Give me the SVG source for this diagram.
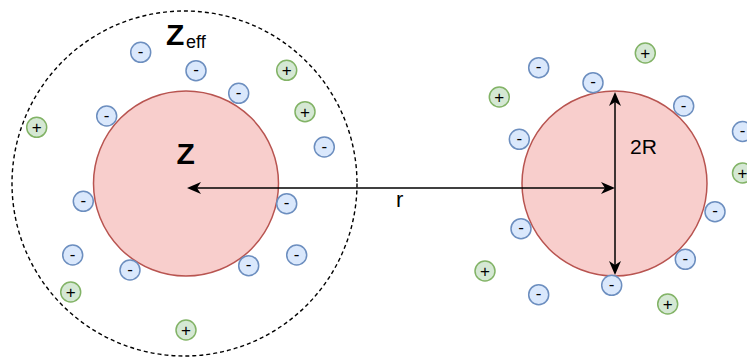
<svg xmlns="http://www.w3.org/2000/svg" width="747" height="358" viewBox="0 0 747 358">
<style>
.core{fill:#f8cecc;stroke:#b85450;stroke-width:1.5}
.shell{fill:none;stroke:#000;stroke-width:1.4;stroke-dasharray:4 3}
.neg circle{fill:#dae8fc;stroke:#6c8ebf;stroke-width:1.5}
.pos circle{fill:#d5e8d4;stroke:#82b366;stroke-width:1.5}
.ion text{font-family:"Liberation Sans",Arial,sans-serif;font-size:17px;fill:#000;text-anchor:middle}
.lbl{font-family:"Liberation Sans",Arial,sans-serif;fill:#000}
.conn{stroke:#000;stroke-width:1.5;fill:none}
</style>
<defs>
<marker id="ah" markerUnits="userSpaceOnUse" viewBox="0 0 14 12" refX="4" refY="6" markerWidth="14" markerHeight="12" orient="auto-start-reverse">
<path d="M14,6 L0,0 L4,6 L0,12 Z" fill="#000"/>
</marker>
</defs>

<g id="shell-zeff"><circle class="shell" cx="184.5" cy="183.5" r="172.5"/></g>
<g id="particle-left"><circle class="core" cx="186" cy="183.5" r="92.5"/></g>
<g id="particle-right"><circle class="core" cx="614.5" cy="183.5" r="92.5"/></g>

<g id="label-zeff"><text class="lbl" x="166" y="45" font-size="30" font-weight="bold">Z</text><text class="lbl" x="186" y="48" font-size="18">eff</text></g>
<g id="label-z"><text class="lbl" x="176.5" y="164" font-size="30" font-weight="bold">Z</text></g>

<g id="connectors">
<line class="conn" x1="197" y1="188" x2="605" y2="188" marker-start="url(#ah)" marker-end="url(#ah)"/>
<line class="conn" x1="615" y1="102" x2="615" y2="265" marker-start="url(#ah)" marker-end="url(#ah)"/>
</g>
<g id="label-r"><text class="lbl" x="396" y="207" font-size="22">r</text></g>
<g id="label-2r"><text class="lbl" x="630" y="154" font-size="21">2R</text></g>

<g id="ion-l1" class="ion neg"><circle cx="140.7" cy="52.3" r="10"/><text x="140.7" y="57">-</text></g>
<g id="ion-l2" class="ion neg"><circle cx="196" cy="70.7" r="10"/><text x="196" y="75.4">-</text></g>
<g id="ion-l3" class="ion pos"><circle cx="286.7" cy="70.3" r="10"/><text x="286.7" y="76.3">+</text></g>
<g id="ion-l4" class="ion neg"><circle cx="238.7" cy="93.3" r="10"/><text x="238.7" y="98">-</text></g>
<g id="ion-l5" class="ion neg"><circle cx="106.7" cy="116" r="10"/><text x="106.7" y="120.7">-</text></g>
<g id="ion-l6" class="ion pos"><circle cx="305" cy="111.7" r="10"/><text x="305" y="117.7">+</text></g>
<g id="ion-l7" class="ion pos"><circle cx="36.7" cy="127.3" r="10"/><text x="36.7" y="133.3">+</text></g>
<g id="ion-l8" class="ion neg"><circle cx="324.3" cy="147" r="10"/><text x="324.3" y="151.7">-</text></g>
<g id="ion-l9" class="ion neg"><circle cx="83.3" cy="201.3" r="10"/><text x="83.3" y="206">-</text></g>
<g id="ion-l10" class="ion neg"><circle cx="286.7" cy="203.7" r="10"/><text x="286.7" y="208.4">-</text></g>
<g id="ion-l11" class="ion neg"><circle cx="72.7" cy="255" r="10"/><text x="72.7" y="259.7">-</text></g>
<g id="ion-l12" class="ion neg"><circle cx="296.7" cy="255" r="10"/><text x="296.7" y="259.7">-</text></g>
<g id="ion-l13" class="ion neg"><circle cx="130" cy="270" r="10"/><text x="130" y="274.7">-</text></g>
<g id="ion-l14" class="ion neg"><circle cx="248.7" cy="265.7" r="10"/><text x="248.7" y="270.4">-</text></g>
<g id="ion-l15" class="ion pos"><circle cx="70.7" cy="292" r="10"/><text x="70.7" y="298">+</text></g>
<g id="ion-l16" class="ion pos"><circle cx="186" cy="330" r="10"/><text x="186" y="336">+</text></g>

<g id="ion-r1" class="ion pos"><circle cx="645.3" cy="53" r="10"/><text x="645.3" y="59">+</text></g>
<g id="ion-r2" class="ion neg"><circle cx="538.7" cy="67.7" r="10"/><text x="538.7" y="72.4">-</text></g>
<g id="ion-r3" class="ion neg"><circle cx="593" cy="82.7" r="10"/><text x="593" y="87.4">-</text></g>
<g id="ion-r4" class="ion pos"><circle cx="499.3" cy="97" r="10"/><text x="499.3" y="103">+</text></g>
<g id="ion-r5" class="ion neg"><circle cx="683.7" cy="106" r="10"/><text x="683.7" y="110.7">-</text></g>
<g id="ion-r6" class="ion neg"><circle cx="519.3" cy="139.3" r="10"/><text x="519.3" y="144">-</text></g>
<g id="ion-r7" class="ion neg"><circle cx="742.5" cy="131.5" r="10"/><text x="742.5" y="136.2">-</text></g>
<g id="ion-r8" class="ion pos"><circle cx="742.5" cy="173" r="10"/><text x="742.5" y="179">+</text></g>
<g id="ion-r9" class="ion neg"><circle cx="715" cy="211.7" r="10"/><text x="715" y="216.4">-</text></g>
<g id="ion-r10" class="ion neg"><circle cx="521" cy="228.7" r="10"/><text x="521" y="233.4">-</text></g>
<g id="ion-r11" class="ion neg"><circle cx="685.3" cy="259.3" r="10"/><text x="685.3" y="264">-</text></g>
<g id="ion-r12" class="ion pos"><circle cx="485" cy="271" r="10"/><text x="485" y="277">+</text></g>
<g id="ion-r13" class="ion neg"><circle cx="611.7" cy="285.3" r="10"/><text x="611.7" y="290">-</text></g>
<g id="ion-r14" class="ion neg"><circle cx="538.7" cy="294.7" r="10"/><text x="538.7" y="299.4">-</text></g>
<g id="ion-r15" class="ion pos"><circle cx="667.7" cy="304" r="10"/><text x="667.7" y="310">+</text></g>
</svg>
